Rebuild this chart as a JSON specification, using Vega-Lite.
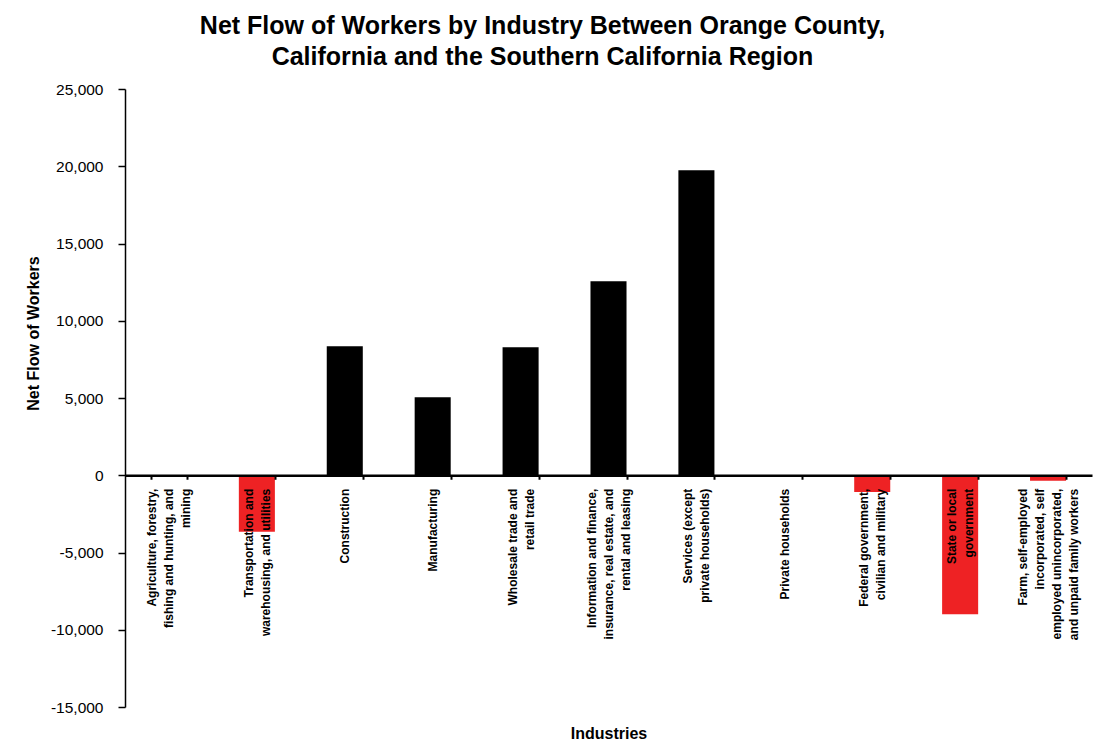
{
  "$schema": "https://vega.github.io/schema/vega-lite/v6.json",
  "width": 967,
  "height": 618,
  "autosize": {"type": "none"},
  "padding": {"left": 125, "top": 89, "right": 3, "bottom": 39},
  "background": "white",
  "title": {
    "text": ["Net Flow of Workers by Industry Between Orange County,", "California and the Southern California Region"],
    "font": "Liberation Sans",
    "fontSize": 25,
    "fontWeight": "bold",
    "color": "black",
    "anchor": "middle",
    "frame": "group",
    "dx": -66,
    "lineHeight": 31,
    "offset": 12
  },
  "config": {
    "view": {"stroke": null},
    "font": "Liberation Sans",
    "locale": {
      "number": {"decimal": ".", "thousands": ",", "grouping": [3], "currency": ["$", ""], "minus": "-"}
    }
  },
  "data": {
    "values": [
      {"industry": "Agriculture, forestry,\nfishing and hunting, and\nmining", "net": 0},
      {"industry": "Transportation and\nwarehousing, and utilities", "net": -3650},
      {"industry": "Construction", "net": 8350},
      {"industry": "Manufacturing", "net": 5050},
      {"industry": "Wholesale trade and\nretail trade", "net": 8290},
      {"industry": "Information and finance,\ninsurance, real estate, and\nrental and leasing", "net": 12550},
      {"industry": "Services (except\nprivate households)", "net": 19740},
      {"industry": "Private households", "net": 0},
      {"industry": "Federal government,\ncivilian and military", "net": -1080},
      {"industry": "State or local\ngovernment", "net": -9000},
      {"industry": "Farm, self-employed\nincorporated, self\nemployed unincorporated,\nand unpaid family workers", "net": -350}
    ]
  },
  "mark": {"type": "bar"},
  "encoding": {
    "x": {
      "field": "industry",
      "type": "nominal",
      "sort": null,
      "scale": {"paddingInner": 0.59, "paddingOuter": 0.295},
      "axis": {
        "orient": "bottom",
        "offset": -231.75,
        "zindex": 1,
        "title": "Industries",
        "titleFont": "Liberation Sans",
        "titleFontSize": 16,
        "titleFontWeight": "bold",
        "titleColor": "black",
        "titleY": 258,
        "titleBaseline": "middle",
        "labelExpr": "split(datum.label, '\\n')",
        "labelAngle": -90,
        "labelAlign": "right",
        "labelBaseline": "middle",
        "labelOffset": {
          "condition": [
            {"test": "length(split(datum.value, '\\n')) == 4", "value": -25.5},
            {"test": "length(split(datum.value, '\\n')) == 3", "value": -17},
            {"test": "length(split(datum.value, '\\n')) == 2", "value": -8.5}
          ],
          "value": 0
        },
        "labelFont": "Liberation Sans",
        "labelFontSize": 12,
        "labelFontWeight": "bold",
        "labelColor": "black",
        "labelLineHeight": 17,
        "labelPadding": 9,
        "labelLimit": 0,
        "labelOverlap": false,
        "tickBand": "extent",
        "tickSize": 4,
        "tickWidth": 2,
        "tickColor": "black",
        "domainColor": "black",
        "domainWidth": 2.5
      }
    },
    "y": {
      "field": "net",
      "type": "quantitative",
      "scale": {"domain": [-15000, 25000], "nice": false, "zero": false},
      "axis": {
        "values": [-15000, -10000, -5000, 0, 5000, 10000, 15000, 20000, 25000],
        "format": ",.0f",
        "grid": false,
        "labelFont": "Liberation Sans",
        "labelFontSize": 15.5,
        "labelColor": "black",
        "labelPadding": 15,
        "tickSize": 7,
        "tickWidth": 1.5,
        "tickColor": "black",
        "domainColor": "black",
        "domainWidth": 1.5,
        "title": "Net Flow of Workers",
        "titleFont": "Liberation Sans",
        "titleFontSize": 16,
        "titleFontWeight": "bold",
        "titleColor": "black",
        "titleX": -92,
        "titleY": 244,
        "titleAlign": "center",
        "titleBaseline": "middle",
        "titleAngle": -90
      }
    },
    "color": {
      "condition": {"test": "datum.net < 0", "value": "#EE2224"},
      "value": "#000000"
    }
  }
}
